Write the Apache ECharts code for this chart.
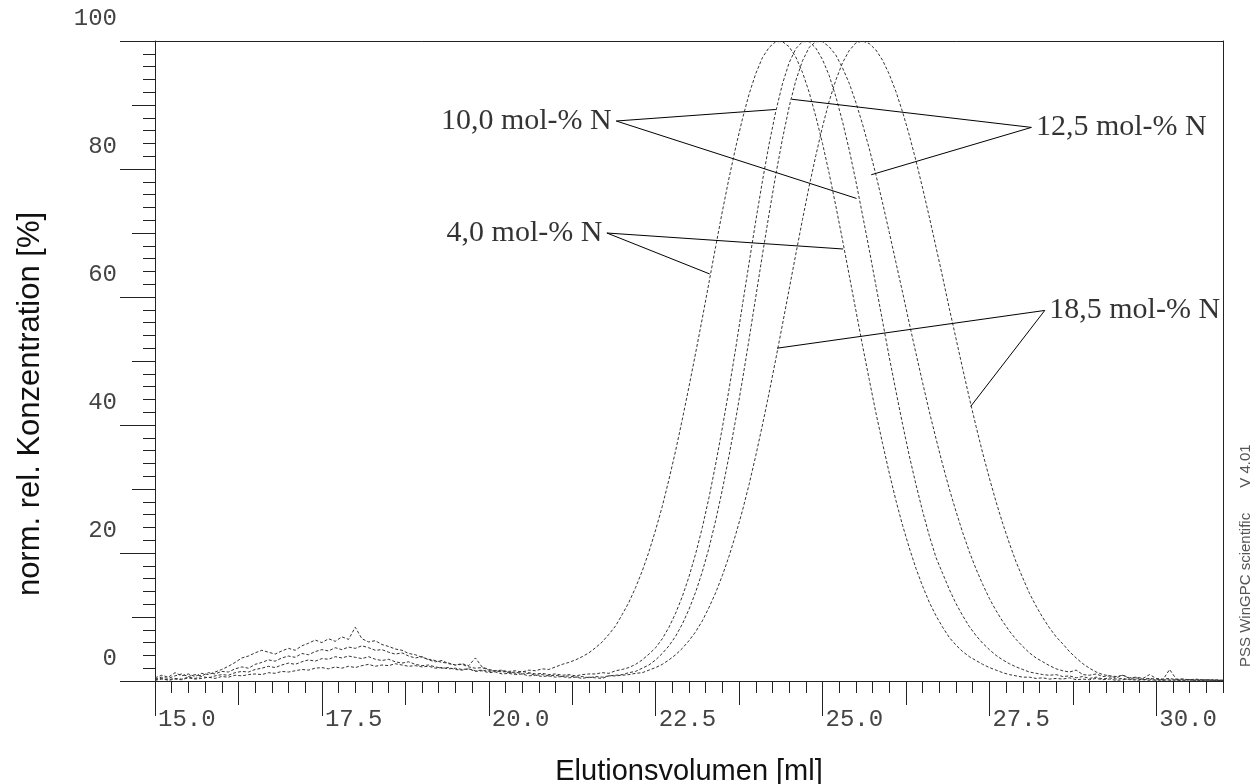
<!DOCTYPE html>
<html>
<head>
<meta charset="utf-8">
<script src="https://cdn.jsdelivr.net/npm/echarts@6/dist/echarts.min.js"></script>
<style>
html,body{margin:0;padding:0;background:#ffffff;}
#chart{width:1258px;height:784px;}
</style>
</head>
<body>
<div id="chart"></div>
<script>
// ---------- DATA ----------
const elutionVolume = [
15.0,15.1,15.2,15.3,15.4,15.5,15.6,15.7,15.8,15.9,
16.0,16.1,16.2,16.3,16.4,16.5,16.6,16.7,16.8,16.9,
17.0,17.1,17.2,17.3,17.4,17.5,17.6,17.7,17.8,17.9,
18.0,18.1,18.2,18.3,18.4,18.5,18.6,18.7,18.8,18.9,
19.0,19.1,19.2,19.3,19.4,19.5,19.6,19.7,19.8,19.9,
20.0,20.1,20.2,20.3,20.4,20.5,20.6,20.7,20.8,20.9,
21.0,21.1,21.2,21.3,21.4,21.5,21.6,21.7,21.8,21.9,
22.0,22.1,22.2,22.3,22.4,22.5,22.6,22.7,22.8,22.9,
23.0,23.1,23.2,23.3,23.4,23.5,23.6,23.7,23.8,23.9,
24.0,24.1,24.2,24.3,24.4,24.5,24.6,24.7,24.8,24.9,
25.0,25.1,25.2,25.3,25.4,25.5,25.6,25.7,25.8,25.9,
26.0,26.1,26.2,26.3,26.4,26.5,26.6,26.7,26.8,26.9,
27.0,27.1,27.2,27.3,27.4,27.5,27.6,27.7,27.8,27.9,
28.0,28.1,28.2,28.3,28.4,28.5,28.6,28.7,28.8,28.9,
29.0,29.1,29.2,29.3,29.4,29.5,29.6,29.7,29.8,29.9,
30.0,30.1,30.2,30.3,30.4,30.5,30.6,30.7,30.8,30.9,
31.0];

// 4,0 mol-% N
const conc4_0 = [
0.2,0.4,0.1,0.3,0.2,0.5,0.3,0.4,0.6,0.4,
0.7,0.6,0.9,0.8,1.0,1.1,1.0,1.3,1.2,1.5,
1.4,1.6,1.8,1.7,2.0,2.1,1.9,2.2,2.0,2.3,
2.1,2.4,2.6,2.3,2.5,2.4,2.7,2.5,2.3,2.4,
2.2,2.3,2.0,2.1,1.9,2.0,1.8,1.9,1.6,1.7,
1.5,1.6,1.4,1.5,1.6,1.4,1.7,1.6,1.9,1.8,
2.2,2.6,2.9,3.3,3.8,4.4,5.2,6.1,7.3,8.6,
10.4,12.3,14.6,17.2,20.2,23.6,27.3,31.5,36.0,40.9,
46.0,51.3,56.7,62.3,67.9,73.4,78.6,83.4,87.8,91.7,
94.9,97.4,99.0,99.9,99.9,99.1,97.5,95.1,92.0,88.2,
84.0,79.3,74.2,68.9,63.4,57.9,52.4,47.1,41.9,37.1,
32.5,28.2,24.3,20.8,17.6,14.8,12.3,10.2,8.4,6.8,
5.6,4.6,3.8,3.2,2.6,2.1,1.7,1.3,1.0,0.8,
0.6,0.6,0.4,0.5,0.3,0.4,0.3,0.5,0.2,0.3,
0.2,0.4,0.2,0.3,0.1,0.2,0.3,0.1,0.2,0.1,
0.2,0.1,0.2,0.1,0.1,0.2,0.1,0.1,0.2,0.1,
0.1];

// 10,0 mol-% N
const conc10_0 = [
0.5,0.9,0.6,1.3,0.8,1.1,0.7,1.2,1.0,1.4,
1.8,2.3,2.9,3.6,3.9,4.4,4.8,4.5,4.2,4.7,
5.1,4.8,5.5,5.9,6.4,6.0,6.6,6.2,6.9,6.5,
8.4,6.6,6.1,6.3,5.7,5.4,5.0,4.8,4.3,4.1,
3.7,3.4,3.2,2.9,2.8,2.5,2.7,2.4,3.6,2.2,
1.8,1.6,1.7,1.4,1.2,1.5,1.3,1.1,1.2,1.0,
1.1,0.9,1.0,0.8,1.0,1.1,1.1,1.3,1.2,1.6,
1.8,2.1,2.6,3.3,4.2,5.2,6.6,8.4,10.6,13.2,
16.3,19.9,24.0,28.7,33.9,39.6,45.6,52.0,58.7,65.3,
71.9,78.1,83.9,89.0,93.3,96.6,98.8,99.9,99.9,98.9,
97.1,94.6,91.3,87.4,83.0,78.1,72.8,67.4,61.8,56.2,
50.6,45.3,40.1,35.2,30.7,26.5,22.7,19.3,16.8,14.3,
12.1,10.2,8.5,7.1,5.9,4.9,4.0,3.3,2.7,2.2,
1.8,1.4,1.2,1.0,0.9,1.0,0.7,0.8,0.5,0.7,
0.4,0.6,0.3,0.5,0.3,0.4,0.2,0.3,0.2,0.3,
0.1,0.2,0.1,0.2,0.1,0.2,0.1,0.2,0.1,0.1,
0.1];

// 12,5 mol-% N
const conc12_5 = [
0.3,0.6,0.4,0.8,1.1,0.7,1.0,0.8,1.3,1.1,
1.5,1.4,1.9,2.2,2.0,2.6,2.9,3.3,3.1,3.6,
3.9,3.7,4.3,4.1,4.6,4.9,4.7,5.2,4.9,5.3,
5.1,5.5,5.2,4.8,4.9,4.5,4.2,4.4,3.9,3.6,
3.8,3.3,3.0,3.2,2.7,2.5,2.6,2.2,2.0,2.1,
1.7,1.5,1.6,1.3,1.4,1.1,1.2,0.9,1.0,0.8,
0.9,0.7,0.8,0.6,0.7,0.5,0.7,0.6,0.8,0.9,
1.0,1.3,1.5,2.0,2.5,3.3,4.3,5.5,7.0,8.9,
11.2,13.9,17.1,20.8,25.1,29.9,35.2,40.9,47.0,53.4,
60.0,66.6,73.0,79.1,84.7,89.7,93.8,96.9,99.0,99.9,
99.9,99.1,97.8,95.8,93.4,90.4,87.0,83.2,79.1,74.7,
70.1,65.4,60.7,55.9,51.2,46.6,42.1,37.9,33.8,30.0,
26.5,23.2,20.2,17.5,15.1,12.9,11.0,9.3,7.8,6.5,
5.4,4.4,3.6,3.0,2.4,1.9,1.6,1.4,1.7,1.0,
0.9,1.1,0.7,0.8,0.5,0.9,0.4,0.5,0.3,0.4,
0.3,0.2,1.8,0.3,0.3,0.1,0.2,0.2,0.1,0.2,
0.1];

// 18,5 mol-% N
const conc18_5 = [
0.1,0.3,0.2,0.4,0.3,0.6,0.4,0.7,0.5,0.8,
1.0,0.9,1.3,1.5,1.4,1.8,2.0,2.3,2.1,2.5,
2.8,2.6,3.0,3.3,3.1,3.5,3.4,3.8,3.6,3.9,
3.7,3.5,3.8,3.4,3.2,3.4,3.0,2.8,3.0,2.6,
2.4,2.5,2.2,2.0,2.1,1.8,1.7,1.9,1.5,1.6,
1.3,1.4,1.1,1.2,1.0,1.1,0.8,0.9,0.7,0.8,
0.6,0.7,0.5,0.6,0.4,0.6,0.5,0.4,0.8,0.8,
0.9,1.0,1.2,1.3,1.7,2.1,2.6,3.3,4.1,5.1,
6.3,7.7,9.4,11.5,13.8,16.5,19.5,22.9,26.6,30.7,
35.2,40.0,45.0,50.3,55.7,61.2,66.7,72.1,77.3,82.1,
86.6,90.6,93.9,96.6,98.5,99.7,100.0,99.6,98.6,97.0,
94.8,92.1,88.9,85.3,81.3,77.0,72.5,67.8,63.1,58.2,
53.5,48.8,44.2,39.8,35.6,31.7,28.0,24.6,21.5,18.6,
16.1,13.7,11.7,9.9,8.3,6.9,5.8,4.6,3.6,2.7,
2.0,1.4,1.0,0.8,0.7,0.9,0.5,0.6,0.4,1.0,
0.4,0.3,0.4,0.2,0.3,0.2,0.3,0.1,0.2,0.1,
0.1];

const seriesNames = ['4,0 mol-% N', '10,0 mol-% N', '12,5 mol-% N', '18,5 mol-% N'];

// axis ticks / labels
const xMajorTicks  = [15, 17.5, 20, 22.5, 25, 27.5, 30];
const xMajorLabels = ['15.0', '17.5', '20.0', '22.5', '25.0', '27.5', '30.0'];
const xMediumTicks = [16.25, 18.75, 21.25, 23.75, 26.25, 28.75];
const yMajorTicks  = [0, 20, 40, 60, 80, 100];
const yMajorLabels = ['0', '20', '40', '60', '80', '100'];

// annotation leader lines: [flank point, label anchor, flank point]
const leader4_0  = [[25.31, 67.5], [21.77, 70.0], [23.31, 63.6]];
const leader10_0 = [[24.30, 89.3], [21.91, 87.5], [25.51, 75.4]];
const leader12_5 = [[24.54, 90.9], [28.13, 86.5], [25.73, 79.1]];
const leader18_5 = [[24.32, 52.0], [28.33, 57.9], [27.22, 42.9]];
const labelSides = ['left', 'left', 'right', 'right'];

// ---------- CHART ----------
const curves = [conc4_0, conc10_0, conc12_5, conc18_5];
const leaders = [leader4_0, leader10_0, leader12_5, leader18_5];
const ink = '#222';
const mono = '"Liberation Mono","Courier New",monospace';
const sans = '"Liberation Sans",Arial,Helvetica,sans-serif';
const serif = '"Liberation Serif","Times New Roman",serif';

const chart = echarts.init(document.getElementById('chart'), null, {renderer: 'canvas'});

function tickAxisX(extra) {
  return Object.assign({
    type: 'value', min: 15, max: 31, position: 'bottom',
    axisLine: {show: false}, axisLabel: {show: false}, splitLine: {show: false}
  }, extra);
}
function tickAxisY(extra) {
  return Object.assign({
    type: 'value', min: 0, max: 100, position: 'left',
    axisLine: {show: false}, axisLabel: {show: false}, splitLine: {show: false}
  }, extra);
}

const series = [];
curves.forEach((c, i) => {
  series.push({
    type: 'line', name: seriesNames[i], xAxisIndex: 0, yAxisIndex: 0,
    data: elutionVolume.map((x, j) => [x, c[j]]),
    symbol: 'none', showSymbol: false, silent: true, z: 3,
    lineStyle: {color: '#333', width: 1, type: [3, 2]}
  });
});
leaders.forEach((pts, i) => {
  series.push({
    type: 'line', name: seriesNames[i] + ' leader', xAxisIndex: 0, yAxisIndex: 0,
    data: pts, symbol: 'none', showSymbol: false, silent: true, z: 4,
    lineStyle: {color: '#000', width: 1, type: 'solid'}
  });
});
series.push({
  type: 'scatter', name: 'labels', xAxisIndex: 0, yAxisIndex: 0, silent: true, z: 5,
  symbol: 'circle', symbolSize: 1, itemStyle: {color: 'rgba(0,0,0,0)'},
  data: leaders.map((pts, i) => ({
    value: pts[1],
    label: {show: true, formatter: seriesNames[i], position: labelSides[i], distance: 4}
  })),
  label: {fontFamily: serif, fontSize: 30, color: '#000'}
});

const option = {
  animation: false,
  backgroundColor: '#ffffff',
  grid: {left: 155, right: 35, top: 41, bottom: 103, containLabel: false, outerBoundsMode: 'none'},
  xAxis: [
    {
      type: 'value', min: 15, max: 31, position: 'bottom', interval: 2.5,
      axisLine: {show: true, onZero: false, lineStyle: {color: ink, width: 1}},
      axisTick: {show: true, length: 35, customValues: xMajorTicks, lineStyle: {color: ink}},
      axisLabel: {
        show: true, customValues: xMajorTicks,
        formatter: v => { const k = xMajorTicks.indexOf(v); return k >= 0 ? xMajorLabels[k] : ''; },
        align: 'left', verticalAlign: 'top', margin: 27, padding: [0, 0, 0, 3],
        fontFamily: mono, fontSize: 24, color: '#444'
      },
      splitLine: {show: false},
      name: 'Elutionsvolumen [ml]', nameLocation: 'middle', nameGap: 76,
      nameTextStyle: {fontFamily: sans, fontSize: 29, color: '#111'}
    },
    tickAxisX({interval: 1.25, axisTick: {show: true, length: 24, customValues: xMediumTicks, lineStyle: {color: ink}}}),
    tickAxisX({interval: 0.25, axisTick: {show: true, length: 12, lineStyle: {color: ink}}}),
    {
      type: 'value', min: 15, max: 31, position: 'top',
      axisLine: {show: true, onZero: false, lineStyle: {color: ink, width: 1}},
      axisTick: {show: false}, axisLabel: {show: false}, splitLine: {show: false}
    }
  ],
  yAxis: [
    {
      type: 'value', min: 0, max: 100, interval: 20, position: 'left',
      axisLine: {show: true, onZero: false, lineStyle: {color: ink, width: 1}},
      axisTick: {show: true, length: 35, lineStyle: {color: ink}},
      axisLabel: {
        show: true, margin: 38,
        formatter: v => { const k = yMajorTicks.indexOf(v); return k >= 0 ? yMajorLabels[k] + '\n ' : ''; },
        verticalAlign: 'middle', lineHeight: 45,
        fontFamily: mono, fontSize: 24, color: '#444'
      },
      splitLine: {show: false}
    },
    tickAxisY({interval: 10, axisTick: {show: true, length: 23, lineStyle: {color: ink}}}),
    tickAxisY({interval: 2, axisTick: {show: true, length: 12, lineStyle: {color: ink}}}),
    {
      type: 'value', min: 0, max: 100, position: 'right',
      axisLine: {show: true, onZero: false, lineStyle: {color: ink, width: 1}},
      axisTick: {show: false}, axisLabel: {show: false}, splitLine: {show: false}
    }
  ],
  graphic: [
    {
      type: 'text', x: 30, y: 404, rotation: Math.PI / 2, silent: true,
      style: {text: 'norm. rel. Konzentration [%]', font: '31px ' + sans, fill: '#111',
              align: 'center', verticalAlign: 'middle', textAlign: 'center', textVerticalAlign: 'middle'}
    },
    {
      type: 'text', x: 1246, y: 667, rotation: Math.PI / 2, silent: true,
      style: {text: 'PSS WinGPC scientific      V 4.01', font: '15px ' + sans, fill: '#555',
              align: 'left', verticalAlign: 'middle', textAlign: 'left', textVerticalAlign: 'middle'}
    }
  ],
  series: series
};
chart.setOption(option);
</script>
</body>
</html>
